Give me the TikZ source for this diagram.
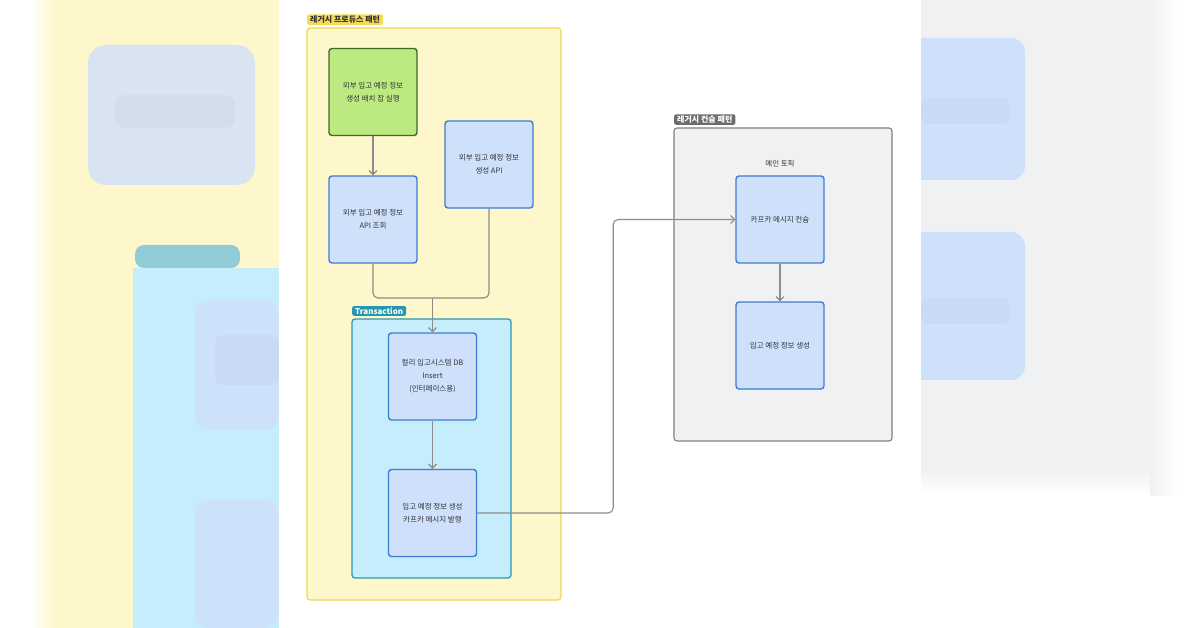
\documentclass[tikz,border=0pt]{standalone}
\usepackage{fontspec}
\setmainfont{Noto Sans CJK KR}
\usetikzlibrary{arrows.meta}

\definecolor{grpyellow}{HTML}{FEF7CB}
\definecolor{grpyellowline}{HTML}{F0D64E}
\definecolor{tagyellow}{HTML}{F5DA55}
\definecolor{boxfill}{HTML}{CFE0FB}
\definecolor{boxline}{HTML}{3F7BD0}
\definecolor{batchfill}{HTML}{BDEA80}
\definecolor{batchline}{HTML}{3E6A24}
\definecolor{txfill}{HTML}{C6EDFB}
\definecolor{txline}{HTML}{2A9AB0}
\definecolor{txtag}{HTML}{2597B2}
\definecolor{grpgray}{HTML}{F0F1F3}
\definecolor{grpgrayline}{HTML}{808080}
\definecolor{taggray}{HTML}{6C6C6C}
\definecolor{connline}{HTML}{8C8C8C}
\definecolor{textdark}{HTML}{333333}

\tikzset{
  proc/.style={draw=boxline, fill=boxfill, line width=1.4pt, rounded corners=3pt,
    minimum width=88pt, minimum height=87pt, align=center, text=textdark,
    font=\fontsize{7.5}{13}\selectfont},
  batch/.style={proc, draw=batchline, fill=batchfill},
  grouptag/.style={rounded corners=2pt, inner xsep=3pt, inner ysep=1.5pt, anchor=south west,
    font=\fontsize{8}{9}\selectfont\bfseries},
  conn/.style={draw=connline, line width=1.1pt, rounded corners=5pt}
}

\begin{document}
\begin{tikzpicture}[x=1pt, y=-1pt, >={Straight Barb[length=4pt,width=8pt]}]
    \useasboundingbox (0,0) rectangle (1200,628);

    % 흐린 배경 (좌우)
    \fill[white] (0,0) rectangle (1200,628);
    \shade[left color=white, right color=grpyellow] (30,0) rectangle (55,628);
    \fill[grpyellow] (55,0) rectangle (279,628);
    \fill[boxfill!80!grpyellow, rounded corners=18pt] (88,45) rectangle (255,185);
    \fill[boxfill!70!gray, opacity=.18, rounded corners=10pt] (115,95) rectangle (235,128);
    \fill[txtag!50!white, rounded corners=9pt] (135,245) rectangle (240,268);
    \fill[txfill] (133,268) rectangle (279,628);
    \fill[boxfill!90!txfill, rounded corners=14pt] (195,300) rectangle (279,430);
    \fill[boxfill!70!gray, opacity=.18, rounded corners=8pt] (215,335) rectangle (279,385);
    \fill[boxfill!90!txfill, rounded corners=14pt] (195,500) rectangle (279,628);
    \fill[grpgray] (921,0) rectangle (1160,480);
    \shade[top color=grpgray, bottom color=white] (921,470) rectangle (1160,495);
    \shade[left color=grpgray, right color=white] (1150,0) rectangle (1180,495);
    \fill[boxfill, rounded corners=14pt] (905,38) rectangle (1025,180);
    \fill[boxfill!70!gray, opacity=.18, rounded corners=8pt] (921,98) rectangle (1010,124);
    \fill[boxfill, rounded corners=14pt] (905,232) rectangle (1025,380);
    \fill[boxfill!70!gray, opacity=.18, rounded corners=8pt] (921,298) rectangle (1010,324);

    % 가운데 흰 패널
    \fill[white] (279,0) rectangle (921,628);

    % 레거시 프로듀스 패턴
    \draw[fill=grpyellow, draw=grpyellowline, line width=1.1pt, rounded corners=3pt] (307,28) rectangle (561,600);
    \node[grouptag, fill=tagyellow, text=textdark] (tagprod) at (307,25) {레거시 프로듀스 패턴};

    % Transaction
    \draw[fill=txfill, draw=txline, line width=1.3pt, rounded corners=3pt] (352,319) rectangle (511,578);
    \node[grouptag, fill=txtag, text=white] (tagtx) at (352,316) {Transaction};

    % 레거시 컨슘 패턴
    \draw[fill=grpgray, draw=grpgrayline, line width=1.1pt, rounded corners=3pt] (674,128) rectangle (892,441);
    \node[grouptag, fill=taggray, text=white] (tagcons) at (674,125) {레거시 컨슘 패턴};
    \node[text=textdark, font=\fontsize{7.5}{9}\selectfont] (topic) at (780,164) {메인 토픽};

    % 노드
    \node[batch] (batchjob) at (373,92) {외부 입고 예정 정보\\생성 배치 잡 실행};
    \node[proc] (createapi) at (489,164.5) {외부 입고 예정 정보\\생성 API};
    \node[proc] (queryapi) at (373,219.5) {외부 입고 예정 정보\\API 조회};
    \node[proc] (dbinsert) at (432.5,376.5) {컬리 입고시스템 DB\\Insert\\(인터페이스용)};
    \node[proc] (publish) at (432.5,513) {입고 예정 정보 생성\\카프카 메시지 발행};
    \node[proc] (consume) at (780,219.5) {카프카 메시지 컨슘};
    \node[proc] (create) at (780,345.5) {입고 예정 정보 생성};

    % 연결선
    \coordinate (merge) at (432.5,298);
    \draw[conn,->] (batchjob) -- (queryapi);
    \draw[conn] (queryapi.south) |- (merge);
    \draw[conn] (createapi.south) |- (merge);
    \draw[conn,->] (merge) -- (dbinsert.north);
    \draw[conn,->] (dbinsert) -- (publish);
    \draw[conn,->] (publish.east) -- ++(136,0) |- (consume.west);
    \draw[conn,->] (consume) -- (create);
\end{tikzpicture}
\end{document}
